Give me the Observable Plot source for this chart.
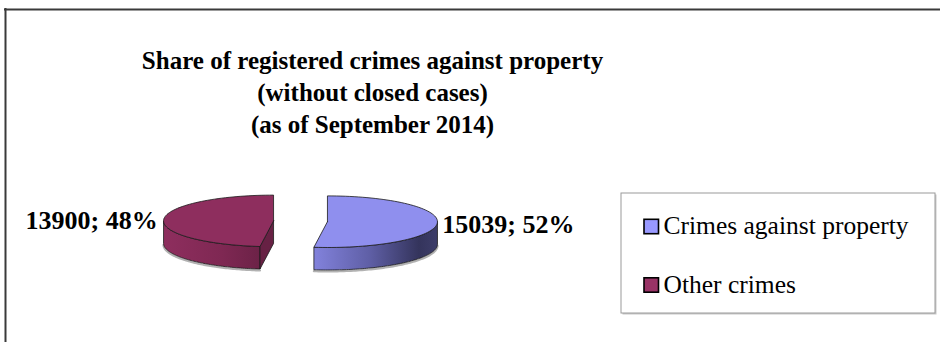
<!DOCTYPE html>
<html><head><meta charset="utf-8">
<script src="https://cdn.jsdelivr.net/npm/d3@7"></script>
<script src="https://cdn.jsdelivr.net/npm/@observablehq/plot@0.6"></script>
<style>html,body{margin:0;padding:0;background:#fff;} #chart svg{display:block;background:#fff}
#chart svg text{font-family:"Liberation Serif","DejaVu Serif",serif !important;}</style>
</head><body><div id="chart"></div>
<script>
// ---- data ----
const categories = ["Crimes against property", "Other crimes"];
const values = [15039, 13900];
const titleLines = ["Share of registered crimes against property", "(without closed cases)", "(as of September 2014)"];
const topColors = ["#8f8fee", "#8e2e5e"];
const legendColors = ["#9999ff", "#993366"];
const sideStops = [
  [[0, "#8282dc"], [0.45, "#5f5fa6"], [0.85, "#34345c"], [1, "#3d3d69"]],
  [[0, "#8e2e5e"], [0.6, "#7f2853"], [1, "#6c2247"]]
];

// ---- layout ----
const W = 940, H = 342;
const FONT = "'Liberation Serif', 'DejaVu Serif', serif";
const pie = {cx: 300, cy: 220.8, rx: 110, ry: 25.8, depth: 22.5, explode: 27};
const rad = Math.PI / 180;
const total = d3.sum(values);
let acc = 0;
const slices = values.map((v, i) => {
  const a0 = acc / total * 360; acc += v; const a1 = acc / total * 360;
  const mid = (a0 + a1) / 2;
  return {
    i, category: categories[i], value: v, pct: Math.round(v / total * 100),
    a0, a1, mid,
    cx: pie.cx + pie.explode * Math.sin(mid * rad),
    cy: pie.cy - pie.explode * Math.cos(mid * rad) * pie.ry / pie.rx
  };
});
const pt = (s, a, dz = 0) => ({x: s.cx + pie.rx * Math.sin(a * rad), y: s.cy - pie.ry * Math.cos(a * rad) + dz});
const arc = (s, a0, a1, dz = 0, n = 80) => d3.range(n + 1).map(k => pt(s, a0 + (a1 - a0) * k / n, dz));

const pieMarks = [];
const stroke = {stroke: "#1a1a1a", strokeWidth: 0.8, strokeLinejoin: "round", curve: "linear"};
const polyMark = (pts, opts) => Plot.line(pts, {x: "x", y: "y", ...stroke, ...opts});
for (const s of slices) {
  const v0 = Math.max(s.a0, 90), v1 = Math.min(s.a1, 270);
  if (v1 > v0) {
    pieMarks.push(Plot.line(arc(s, v0, v1, pie.depth + 1.4), {x: "x", y: "y", stroke: "#555", strokeWidth: 2.2, strokeOpacity: 0.45}));
    const topArc = arc(s, v0, v1), botArc = arc(s, v1, v0, pie.depth);
    pieMarks.push(polyMark([...topArc, ...botArc, topArc[0]], {fill: `url(#side${s.i})`}));
  }
  const c = {x: s.cx, y: s.cy}, cb = {x: s.cx, y: s.cy + pie.depth};
  for (const [a, sign] of [[s.a0, -1], [s.a1, 1]]) {
    if (sign * Math.sin(a * rad) > 0.001) {
      const p = pt(s, a), pb = pt(s, a, pie.depth);
      pieMarks.push(polyMark([c, p, pb, cb, c], {fill: d3.color(topColors[s.i]).darker(0.9).formatHex()}));
    }
  }
}
for (const s of slices) {
  const c = {x: s.cx, y: s.cy};
  pieMarks.push(polyMark([c, ...arc(s, s.a0, s.a1), c], {fill: topColors[s.i]}));
}

// labels
const labelText = d => `${d.value}; ${d.pct}%`;
const lx = (d, off) => pt(d, d.mid).x + off;
const ly = d => pt(d, d.mid).y + 1.5;
const labelFont = {fontFamily: FONT, fontWeight: "bold", fontSize: 26, fill: "#000"};
const rightLabels = slices.filter(d => Math.sin(d.mid * rad) >= 0);
const leftLabels = slices.filter(d => Math.sin(d.mid * rad) < 0);

// legend
const legendBox = {x1: 621, x2: 935, y1: 193, y2: 313};
const legendItems = categories.map((c, i) => ({c, i, color: legendColors[i], y: 226.5 + i * 58.5}));

const chart = Plot.plot({
  width: W, height: H, margin: 0,
  x: {domain: [0, W], range: [0, W], axis: null},
  y: {domain: [0, H], range: [0, H], axis: null},
  style: {background: "#fff", overflow: "visible"},
  marks: [
    Plot.ruleY([9], {x1: 4, x2: W, stroke: "#3a3a3a", strokeWidth: 2}),
    Plot.ruleX([5], {y1: 8, y2: H, stroke: "#3a3a3a", strokeWidth: 2}),
    Plot.text(titleLines, {x: 372, y: (d, i) => 68 + i * 32, text: d => d, lineAnchor: "bottom",
      textAnchor: "middle", fontFamily: FONT, fontWeight: "bold", fontSize: 25, fill: "#000"}),
    ...pieMarks,
    Plot.text(rightLabels, {x: d => lx(d, 5), y: ly, text: labelText, textAnchor: "start", ...labelFont}),
    Plot.text(leftLabels, {x: d => lx(d, -6), y: ly, text: labelText, textAnchor: "end", ...labelFont}),
    Plot.rect([legendBox], {x1: d => d.x1 + 1.5, x2: d => d.x2 + 1.5, y1: d => d.y1 + 1.5, y2: d => d.y2 + 1.5, fill: "#c8c8c8"}),
    Plot.rect([legendBox], {x1: "x1", x2: "x2", y1: "y1", y2: "y2", fill: "#fff", stroke: "#9a9a9a", strokeWidth: 1}),
    Plot.rect(legendItems, {x1: 644, x2: 658.5, y1: d => d.y - 7.2, y2: d => d.y + 7.2, fill: "color", stroke: "#000", strokeWidth: 1.6}),
    Plot.text(legendItems, {x: 663, y: d => d.y + 7, text: "c", lineAnchor: "bottom", textAnchor: "start",
      fontFamily: FONT, fontSize: 25.5, fill: "#000"})
  ]
});

const defs = d3.select(chart).insert("defs", ":first-child");
sideStops.forEach((stops, i) => {
  const g = defs.append("linearGradient").attr("id", `side${i}`).attr("x1", "0").attr("x2", "1").attr("y1", "0").attr("y2", "0");
  stops.forEach(([o, c]) => g.append("stop").attr("offset", o).attr("stop-color", c));
});
document.getElementById("chart").appendChild(chart);
</script>
</body></html>
